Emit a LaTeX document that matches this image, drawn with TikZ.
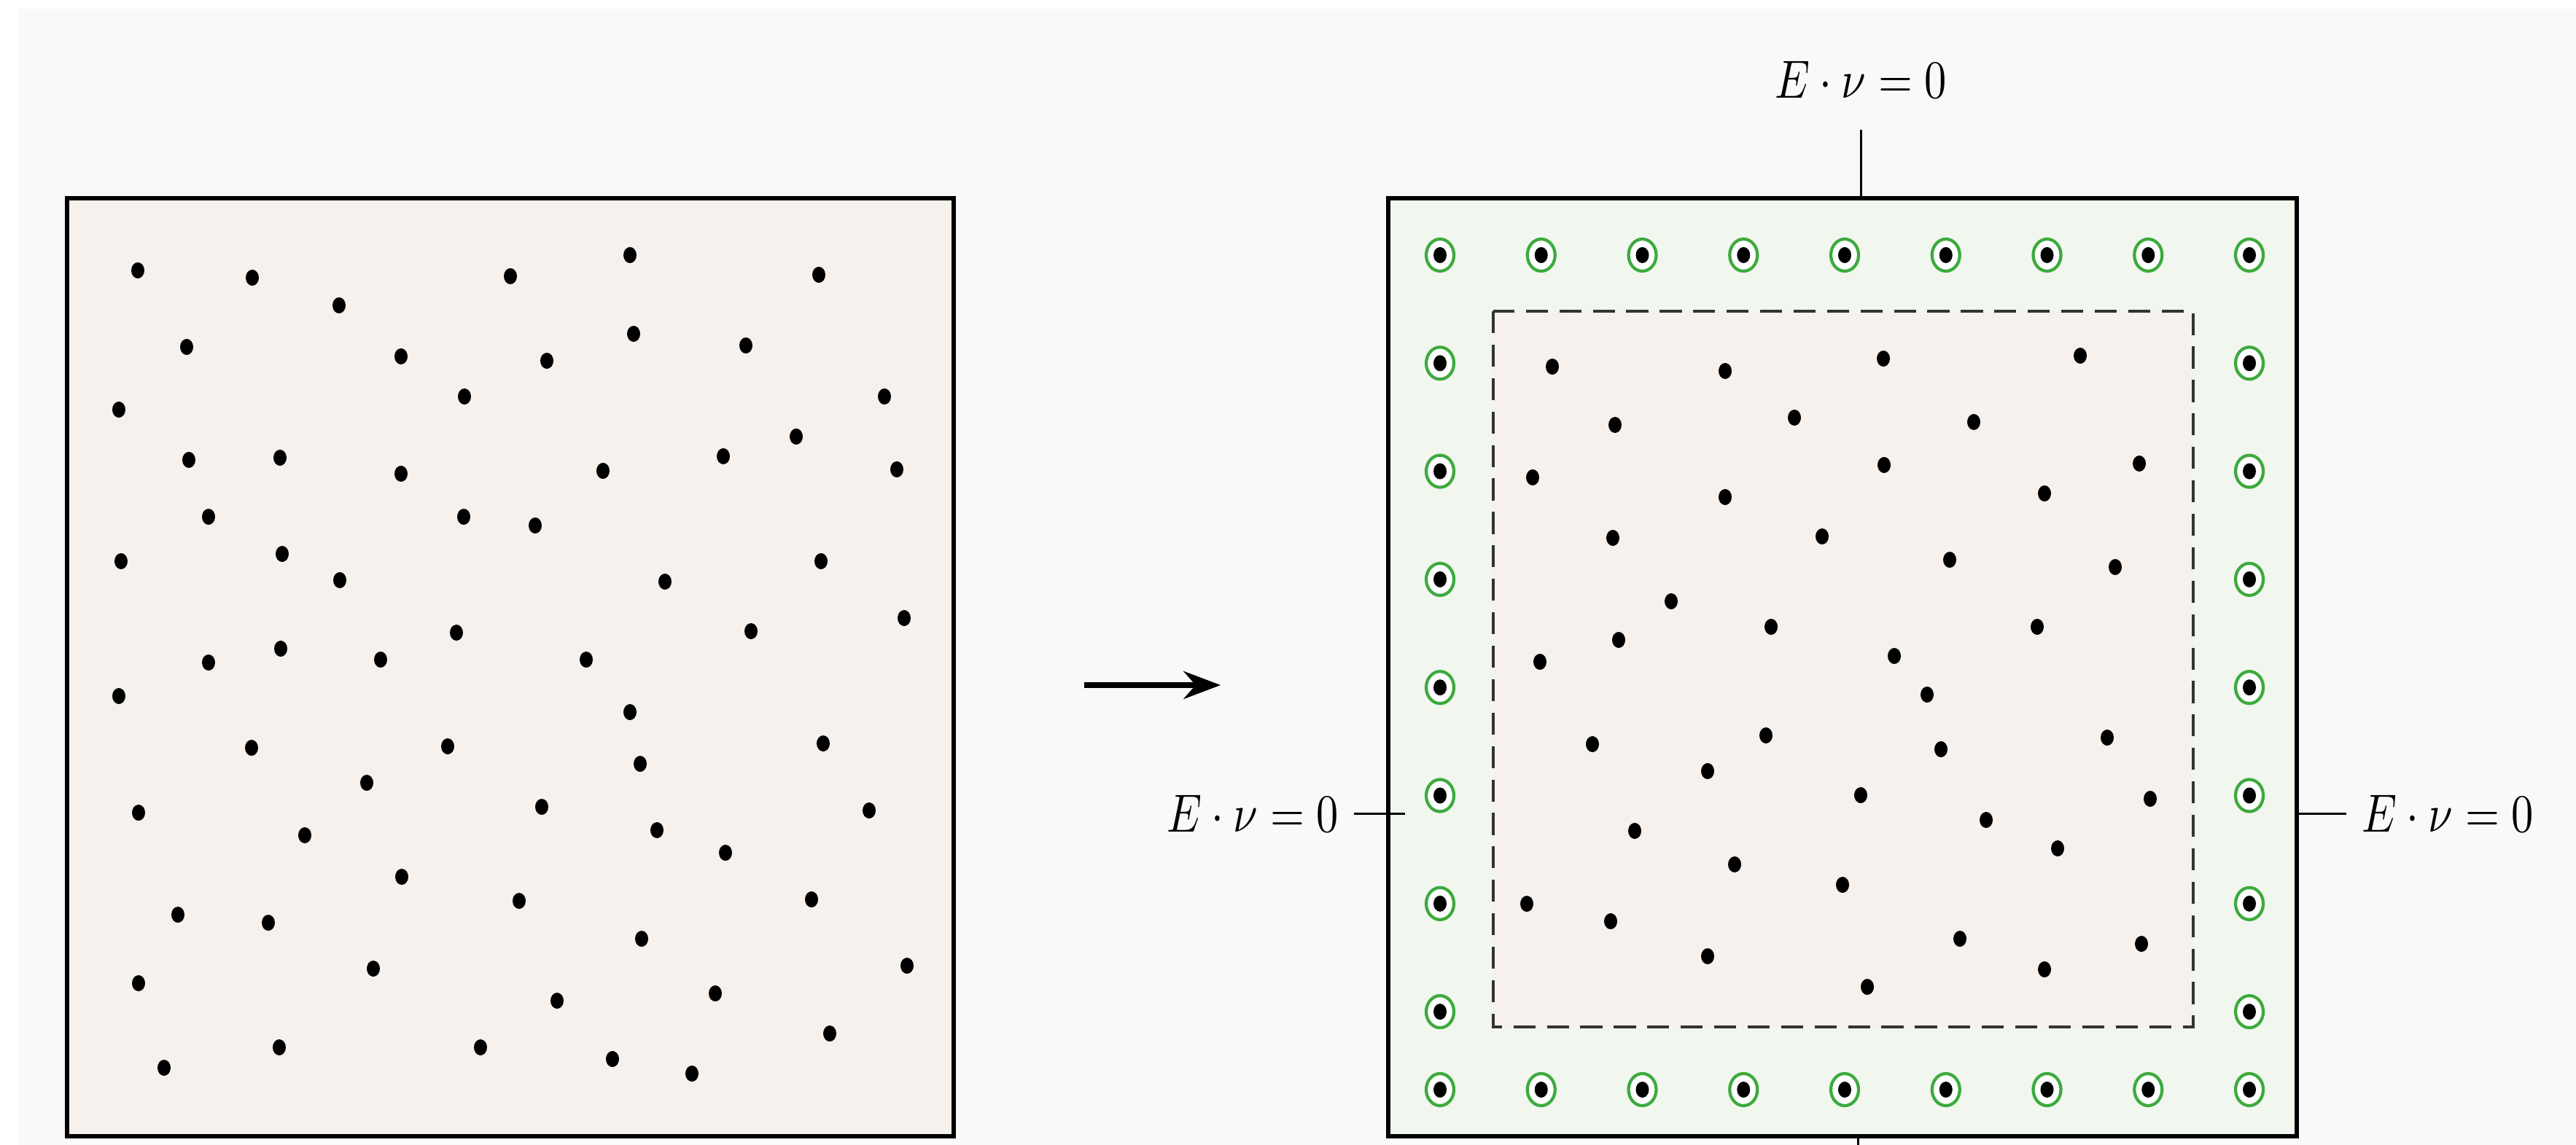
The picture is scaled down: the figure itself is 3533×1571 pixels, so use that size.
\documentclass[tikz,border=0pt]{standalone}
\usepackage{amsmath,amssymb}
\usetikzlibrary{arrows.meta}
\definecolor{pagebg}{HTML}{F9F9F9}
\definecolor{sand}{HTML}{F6F1EC}
\definecolor{mint}{HTML}{F1F6EE}
\definecolor{ringgreen}{HTML}{3DAA3D}

\begin{document}
\begin{tikzpicture}[x=0.1656pt,y=-0.1656pt,>=Stealth,
  every node/.style={yscale=1.22},
  domframe/.style={draw=black,line width=1pt},
  bctick/.style={line width=0.5pt},
  ring/.style={draw=ringgreen,fill=white,line width=0.7pt}]
\useasboundingbox (0,0) rectangle (3533,1571);
\fill[white] (0,0) rectangle (3533,1571);
\fill[pagebg] (25,12) rectangle (3533,1571);

% left: particles in the whole domain
\fill[sand,domframe] (92,272) rectangle (1308,1559);
\foreach \x/\y in {189/371,346/381,700/379,864/350,1123/377,465/419,256/476,550/489,
  750/495,869/458,1023/474,637/544,1213/544,163/562,1092/599,259/631,384/628,550/650,
  827/646,992/626,1230/644,286/709,636/709,734/721,166/770,387/760,466/796,912/798,
  1126/770,1240/848,626/868,1030/866,385/890,286/909,522/905,804/905,163/955,864/977,
  345/1026,614/1024,1129/1020,878/1048,503/1074,190/1115,743/1107,1192/1112,418/1146,
  901/1139,995/1170,551/1203,712/1236,1113/1234,244/1255,368/1266,880/1288,512/1329,
  1244/1325,190/1349,764/1373,981/1363,1138/1418,383/1437,659/1437,840/1453,949/1473,
  225/1465}
  \fill (\x,\y) ellipse[x radius=9,y radius=11];

\coordinate (arrA) at (1487,940);
\coordinate (arrB) at (1674,940);
\draw[->,line width=1.2pt] (arrA) -- (arrB);

% right: boundary layer and interior
\fill[mint,domframe] (1904,272) rectangle (3150,1559);
\fill[sand] (2048,427) rectangle (3008,1409);
\draw[dashed,dash pattern=on 5pt off 2.6pt,line width=0.6pt,draw=black!80] (2048,427) rectangle (3008,1409);
\foreach \x/\y in {2129/503,2366/509,2583/492,2853/488,2215/583,2461/573,2707/579,
  2102/655,2584/638,2934/636,2366/682,2804/677,2212/738,2499/736,2674/768,2901/778,
  2292/825,2429/860,2794/860,2220/878,2112/908,2598/900,2643/953,2184/1021,2422/1009,
  2662/1028,2890/1012,2342/1058,2552/1091,2949/1096,2724/1125,2242/1140,2822/1164,
  2379/1186,2527/1214,2094/1240,2209/1264,2688/1288,2937/1295,2342/1312,2804/1330,
  2561/1354}
  \fill (\x,\y) ellipse[x radius=9,y radius=11];

\foreach \i in {0,...,8}{
  \foreach \y in {350,1495}{
    \draw[ring] (1975+138.75*\i,\y) ellipse[x radius=19,y radius=22];
    \fill (1975+138.75*\i,\y) ellipse[x radius=9,y radius=11];
  }}
\foreach \k in {1,...,7}{
  \foreach \x in {1975,3085}{
    \draw[ring] (\x,350+148.3*\k) ellipse[x radius=19,y radius=22];
    \fill (\x,350+148.3*\k) ellipse[x radius=9,y radius=11];
  }}

\node (lblT) at (2552,109) {$E\cdot\nu=0$};
\node (lblL) at (1718,1116) {$E\cdot\nu=0$};
\node (lblR) at (3357,1116) {$E\cdot\nu=0$};
\coordinate (tT) at (2552,272);
\coordinate (tL) at (1927,1116);
\coordinate (tR) at (3150,1116);
\coordinate (tB) at (2548,1559);
\coordinate (tBend) at (2548,1620);
\draw[bctick,shorten <=3pt] (lblT) -- (tT);
\draw[bctick] (lblL) -- (tL);
\draw[bctick] (lblR) -- (tR);
\draw[bctick] (tB) -- (tBend);
\end{tikzpicture}
\end{document}
